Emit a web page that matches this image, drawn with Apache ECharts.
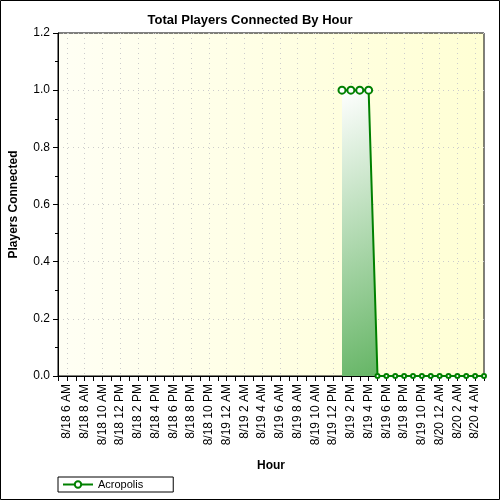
<!DOCTYPE html><html><head><meta charset="utf-8"><script src="https://cdn.jsdelivr.net/npm/echarts@6/dist/echarts.min.js"></script></head><body style="margin:0"><div id="c" style="width:500px;height:500px"></div><script>
const hours=[];for(let h=5;h<=53;h++){const d=h<24?18:(h<48?19:20);const hh=h%24;const ap=hh<12?'AM':'PM';const h12=hh%12===0?12:hh%12;hours.push('8/'+d+' '+h12+' '+ap);}
// values: null = no data; 8/19 1PM..4PM = 1, 8/19 5PM..8/20 5AM = 0
const values=hours.map((_,i)=>{const h=i+5;if(h<37)return null;if(h<=40)return 1;return 0;});
const yTicks=[0,0.2,0.4,0.6,0.8,1.0,1.2];
const c=echarts.init(document.getElementById('c'));
c.setOption({
 backgroundColor:'#fff',
 title:{text:'Total Players Connected By Hour',left:'center',top:9,textStyle:{fontFamily:'Liberation Sans',fontSize:13,fontWeight:'bold',color:'#000'}},
 graphic:[{type:'rect',shape:{x:0.5,y:0.5,width:499,height:499},style:{fill:'none',stroke:'#000',lineWidth:1},z:-1},
  {type:'rect',shape:{x:58,y:33,width:426,height:343},style:{fill:new echarts.graphic.LinearGradient(0,0,1,0,[{offset:0,color:'#fffff4'},{offset:1,color:'#ffffd4'}]),stroke:'#000'},z:-1}],
 grid:{left:58,right:16,top:33,bottom:124},
 legend:{left:58,top:477,itemWidth:30,itemHeight:8,padding:[2,30,2,4],borderColor:'#000',borderWidth:1,borderRadius:0,textStyle:{fontFamily:'Liberation Sans',fontSize:11,color:'#000'}},
 xAxis:{type:'category',data:hours,boundaryGap:false,name:'Hour',nameLocation:'middle',nameGap:84,nameTextStyle:{fontFamily:'Liberation Sans',fontSize:12,fontWeight:'bold',color:'#000'},
  axisLine:{lineStyle:{color:'#000'}},axisTick:{interval:0,lineStyle:{color:'#000'},length:5},
  axisLabel:{rotate:90,interval:(i)=>(i%2===1),fontFamily:'Liberation Sans',fontSize:12,color:'#000',margin:8},
  splitLine:{show:true,interval:(i)=>(i%2===1),lineStyle:{color:'#ccc',type:[1,4]}}},
 yAxis:{type:'value',min:0,max:1.2,interval:0.2,name:'Players Connected',nameLocation:'middle',nameGap:38,nameTextStyle:{fontFamily:'Liberation Sans',fontSize:12,fontWeight:'bold',color:'#000'},
  axisLine:{show:true,lineStyle:{color:'#000'}},axisTick:{show:true,lineStyle:{color:'#000'}},minorTick:{show:true,splitNumber:2,lineStyle:{color:'#000'}},
  axisLabel:{formatter:v=>v.toFixed(1),fontFamily:'Liberation Sans',fontSize:12,color:'#000'},
  splitLine:{lineStyle:{color:'#ccc',type:[1,4]}}},
 series:[{name:'Acropolis',type:'line',data:values,connectNulls:false,symbol:'emptyCircle',symbolSize:v=>v>0?7:4,showAllSymbol:true,
  itemStyle:{color:'#008000',borderColor:'#008000'},lineStyle:{color:'#008000',width:2},
  areaStyle:{color:new echarts.graphic.LinearGradient(0,0,1,1,[{offset:0,color:'#ffffff'},{offset:1,color:'#4aa84a'}]),opacity:1}}]
});
</script></body></html>
